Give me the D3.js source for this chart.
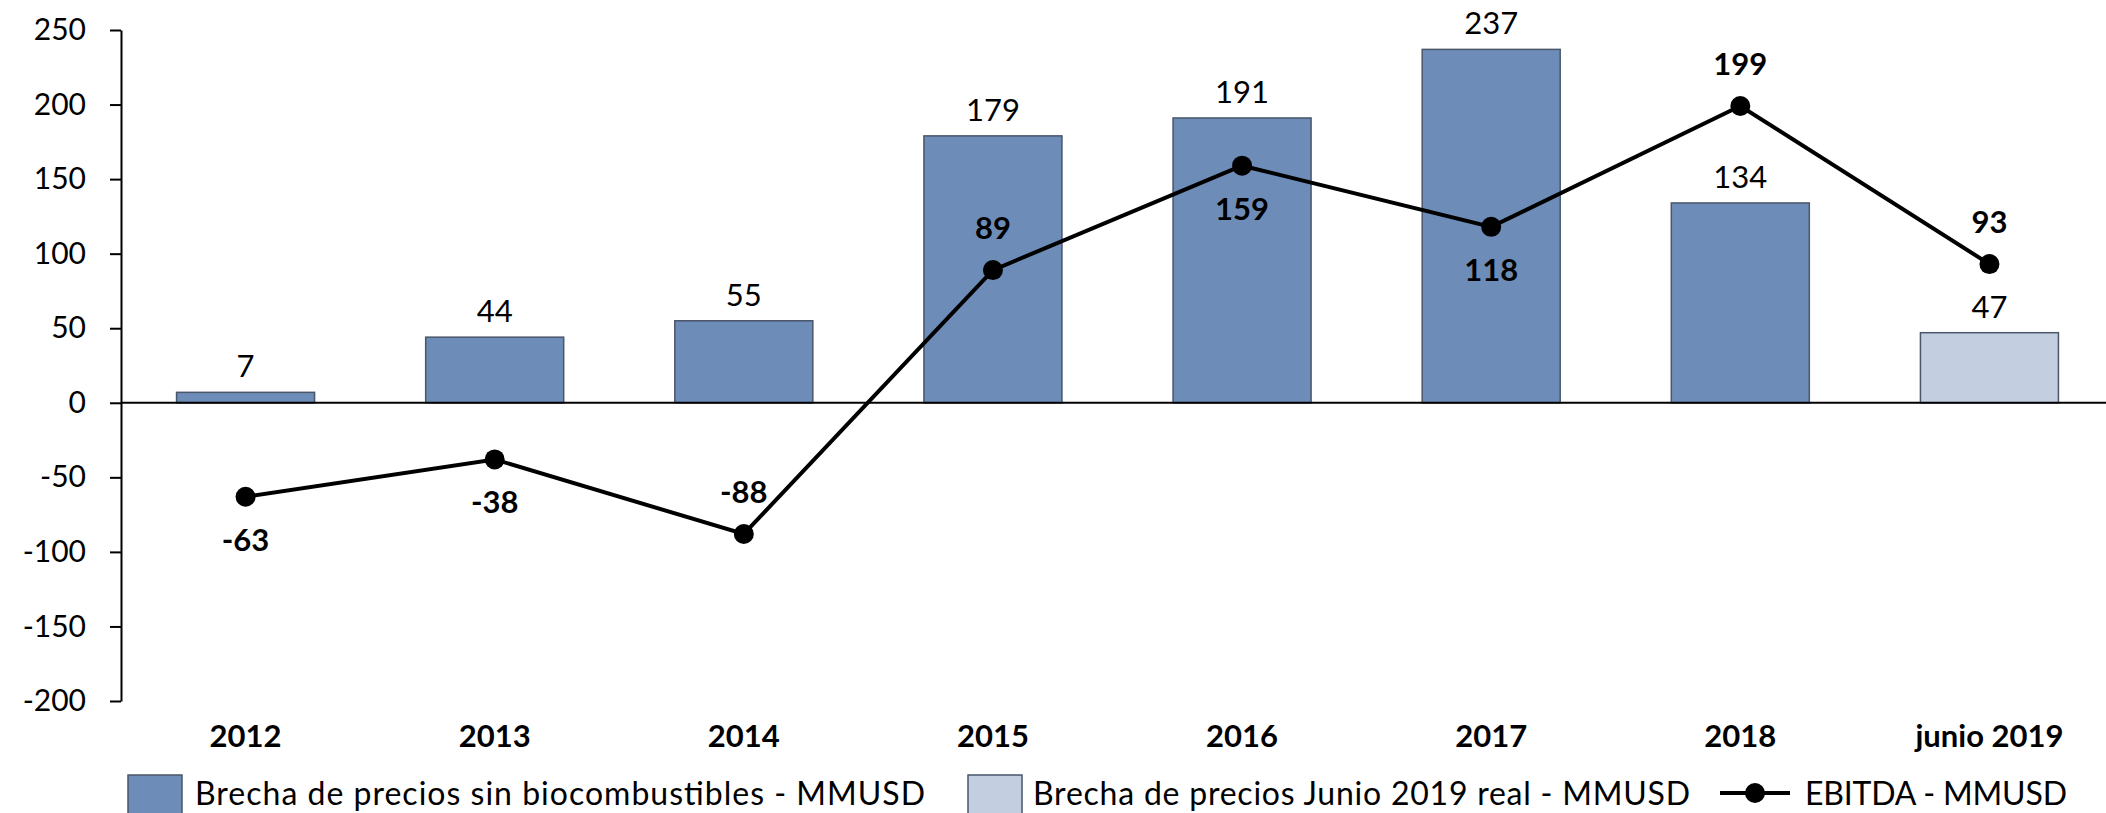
<!DOCTYPE html>
<html>
<head>
<meta charset="utf-8">
<script src="https://cdn.jsdelivr.net/npm/d3@7"></script>
<style>
  body { margin: 0; background: #fff; }
  text { font-family: Lato, "Open Sans", sans-serif; fill: #000; }
</style>
</head>
<body>
<script>
const categories = ["2012", "2013", "2014", "2015", "2016", "2017", "2018", "junio 2019"];
const brecha = [7, 44, 55, 179, 191, 237, 134, 47];
const ebitda = [-63, -38, -88, 89, 159, 118, 199, 93];
const ebitdaLabelAbove = [false, false, true, true, false, false, true, true];
const yTicks = [250, 200, 150, 100, 50, 0, -50, -100, -150, -200];
const legendLabels = [
  "Brecha de precios sin biocombustibles - MMUSD",
  "Brecha de precios Junio 2019 real - MMUSD",
  "EBITDA - MMUSD"
];

const width = 2106, height = 813;
const colorDark = "#6d8cb7", colorLight = "#c3cfe0", barStroke = "#4a566a";

let svg = d3.select("body").append("svg")
  .attr("width", width)
  .attr("height", height);

let x = d3.scaleBand().domain(categories).range([121, 2114])
  .paddingInner(0.446).paddingOuter(0.223);
let y = d3.scaleLinear().domain([-200, 250]).range([701, 30]);

// y axis
let yAxis = svg.append("g")
  .attr("transform", "translate(121,0)")
  .call(d3.axisLeft(y).tickValues(yTicks).tickFormat(d => String(d))
    .tickSize(11).tickSizeOuter(0).tickPadding(24));
yAxis.select(".domain").attr("stroke", "#000").attr("stroke-width", 2);
yAxis.selectAll(".tick line").attr("stroke", "#000").attr("stroke-width", 2);
yAxis.selectAll(".tick text")
  .style("font-family", "Lato, 'Open Sans', sans-serif")
  .style("font-size", "30px")
  .attr("fill", "#000");

// bars
svg.append("g").selectAll("rect")
  .data(brecha)
  .join("rect")
  .attr("x", (d, i) => x(categories[i]))
  .attr("y", d => y(Math.max(0, d)))
  .attr("width", x.bandwidth())
  .attr("height", d => Math.abs(y(d) - y(0)))
  .attr("fill", (d, i) => i === categories.length - 1 ? colorLight : colorDark)
  .attr("stroke", barStroke)
  .attr("stroke-width", 1.5);

svg.append("g").selectAll("text")
  .data(brecha)
  .join("text")
  .attr("x", (d, i) => x(categories[i]) + x.bandwidth() / 2)
  .attr("y", d => y(d) - 15)
  .attr("text-anchor", "middle")
  .style("font-size", "31px")
  .text(d => d);

// zero line
svg.append("line")
  .attr("x1", 121).attr("x2", width)
  .attr("y1", y(0)).attr("y2", y(0))
  .attr("stroke", "#000").attr("stroke-width", 2);

// category labels
svg.append("g").selectAll("text")
  .data(categories)
  .join("text")
  .attr("x", d => x(d) + x.bandwidth() / 2)
  .attr("y", 747)
  .attr("text-anchor", "middle")
  .style("font-size", "31px")
  .style("font-weight", "bold")
  .text(d => d);

// EBITDA line
let cx = i => x(categories[i]) + x.bandwidth() / 2;
let line = d3.line().x((d, i) => cx(i)).y(d => y(d));
svg.append("path")
  .datum(ebitda)
  .attr("d", line)
  .attr("fill", "none")
  .attr("stroke", "#000")
  .attr("stroke-width", 4);
svg.append("g").selectAll("circle")
  .data(ebitda)
  .join("circle")
  .attr("cx", (d, i) => cx(i))
  .attr("cy", d => y(d))
  .attr("r", 10)
  .attr("fill", "#000");
svg.append("g").selectAll("text")
  .data(ebitda)
  .join("text")
  .attr("x", (d, i) => cx(i))
  .attr("y", (d, i) => ebitdaLabelAbove[i] ? y(d) - 31 : y(d) + 54)
  .attr("text-anchor", "middle")
  .style("font-size", "31px")
  .style("font-weight", "bold")
  .text(d => d);

// legend
let legend = svg.append("g");
legend.append("rect").attr("x", 128).attr("y", 775).attr("width", 54).attr("height", 44)
  .attr("fill", colorDark).attr("stroke", barStroke).attr("stroke-width", 1.5);
legend.append("text").attr("x", 195).attr("y", 805).style("font-size", "32px")
  .attr("textLength", 730).attr("lengthAdjust", "spacing").text(legendLabels[0]);
legend.append("rect").attr("x", 968).attr("y", 775).attr("width", 54).attr("height", 44)
  .attr("fill", colorLight).attr("stroke", barStroke).attr("stroke-width", 1.5);
legend.append("text").attr("x", 1033).attr("y", 805).style("font-size", "32px")
  .attr("textLength", 657).attr("lengthAdjust", "spacing").text(legendLabels[1]);
legend.append("line").attr("x1", 1720).attr("x2", 1790).attr("y1", 793).attr("y2", 793)
  .attr("stroke", "#000").attr("stroke-width", 4);
legend.append("circle").attr("cx", 1755).attr("cy", 793).attr("r", 10).attr("fill", "#000");
legend.append("text").attr("x", 1805).attr("y", 805).style("font-size", "32px")
  .attr("textLength", 262).attr("lengthAdjust", "spacing").text(legendLabels[2]);
</script>
</body>
</html>
